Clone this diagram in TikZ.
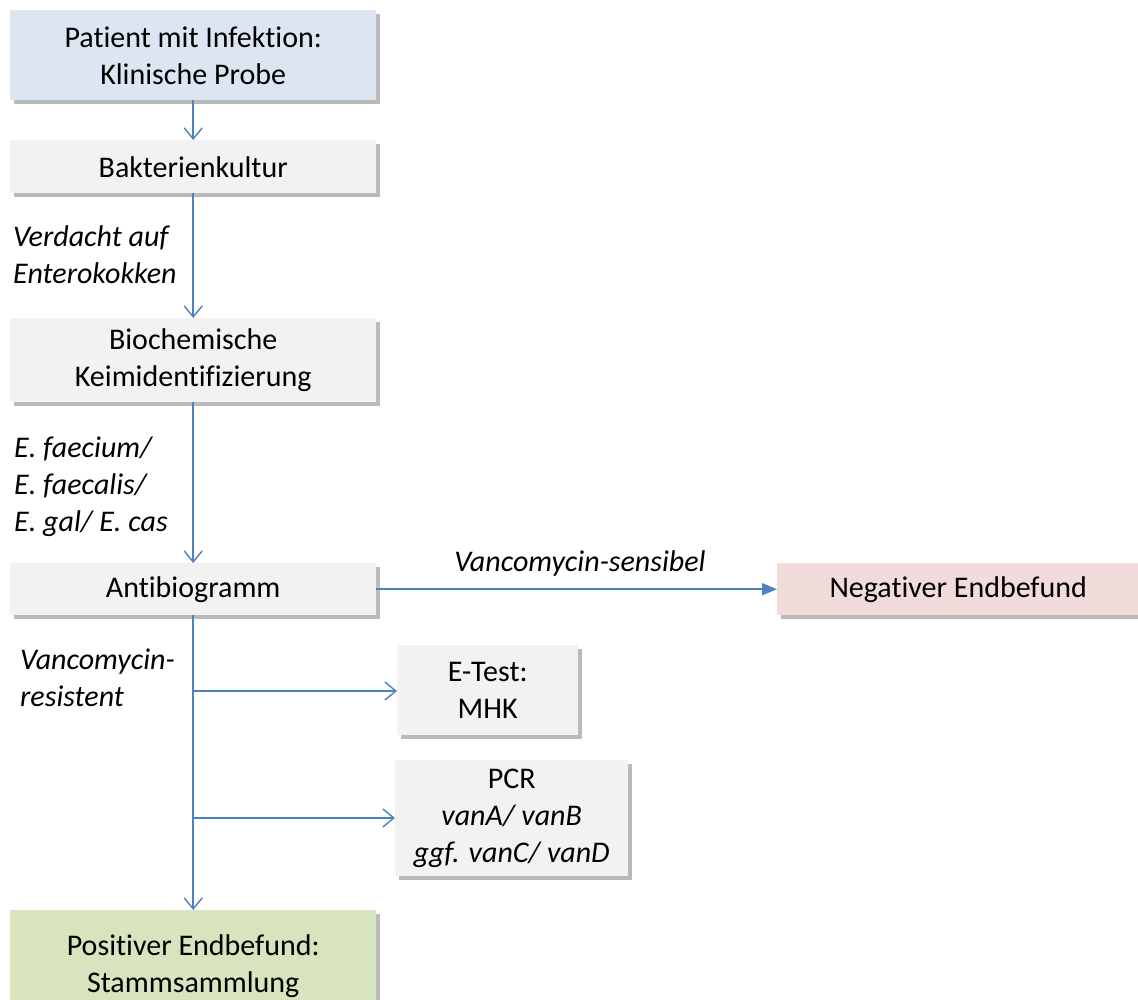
\documentclass[tikz,border=0pt]{standalone}
\usepackage{fontspec}
\setmainfont{Carlito}[Ligatures=NoCommon]
\usetikzlibrary{arrows.meta,shadows,positioning}
\definecolor{lineblue}{HTML}{4F81BD}
\definecolor{boxgray}{HTML}{F2F2F2}
\definecolor{boxblue}{HTML}{DCE6F2}
\definecolor{boxpink}{HTML}{F2DCDB}
\definecolor{boxgreen}{HTML}{D7E4BD}
\tikzset{
  box/.style={draw=none, inner sep=0pt, align=center, anchor=north west,
    font=\fontsize{30}{37}\selectfont,
    drop shadow={shadow xshift=4pt, shadow yshift=-4pt, fill=black!60, opacity=0.45}},
  lbl/.style={font=\fontsize{30}{37}\selectfont\itshape, inner sep=0pt},
  conn/.style={draw=lineblue, line width=1.6pt},
  openarr/.style={conn, -{Straight Barb[length=11pt,width=18pt,line width=1.4pt]}},
  fillarr/.style={conn, -{Triangle[length=15pt,width=12pt]}}
}
\begin{document}
\begin{tikzpicture}[x=1pt,y=-1pt]
\useasboundingbox (0,0) rectangle (1138,999);
\clip (0,0) rectangle (1138,999);
\fill[white] (0,0) rectangle (1138,999);

\node[box, fill=boxblue, minimum width=366pt, minimum height=90pt] (patient) at (10,10) {Patient mit Infektion:\\Klinische Probe};
\node[box, fill=boxgray, minimum width=366pt, minimum height=53pt] (kultur) at (10,140) {Bakterienkultur};
\node[box, fill=boxgray, minimum width=366pt, minimum height=84pt] (biochem) at (10,318) {Biochemische\\Keimidentifizierung};
\node[box, fill=boxgray, minimum width=366pt, minimum height=52pt] (antibio) at (10,563) {Antibiogramm};
\node[box, fill=boxpink, minimum width=370pt, minimum height=52pt] (negativ) at (777,563) {\hspace*{-8pt}Negativer Endbefund};
\node[box, fill=boxgray, minimum width=181pt, minimum height=90pt] (etest) at (397,645) {E-Test:\\MHK};
\node[box, fill=boxgray, minimum width=233pt, minimum height=116pt] (pcr) at (395,760) {PCR\\\textit{vanA/ vanB}\\\textit{ggf. vanC/ vanD}};
\node[box, fill=boxgreen, minimum width=366pt, minimum height=112pt] (positiv) at (10,910) {Positiver Endbefund:\\Stammsammlung};

\draw[openarr] (patient.south) -- (kultur.north);
\draw[openarr] (kultur.south) -- (biochem.north);
\draw[openarr] (biochem.south) -- (antibio.north);
\draw[fillarr] (antibio.east) -- (negativ.west);
\draw[openarr] (antibio.south) -- (positiv.north);
\coordinate (b1) at (193,691);
\coordinate (b2) at (193,818);
\draw[openarr] (b1) -- (b1 -| etest.west);
\draw[openarr] (b2) -- (b2 -| pcr.west);

\node[lbl, anchor=west, align=left] (l1) at (13,255) {Verdacht auf\\Enterokokken};
\node[lbl, anchor=west, align=left] (l2) at (14,487) {E. faecium/\\E. faecalis/\\E. gal/ E. cas};
\node[lbl, anchor=west, align=left] (l3) at (20,678) {Vancomycin-\\resistent};
\node[lbl] (l4) at (580,563) {Vancomycin-sensibel};
\end{tikzpicture}
\end{document}
